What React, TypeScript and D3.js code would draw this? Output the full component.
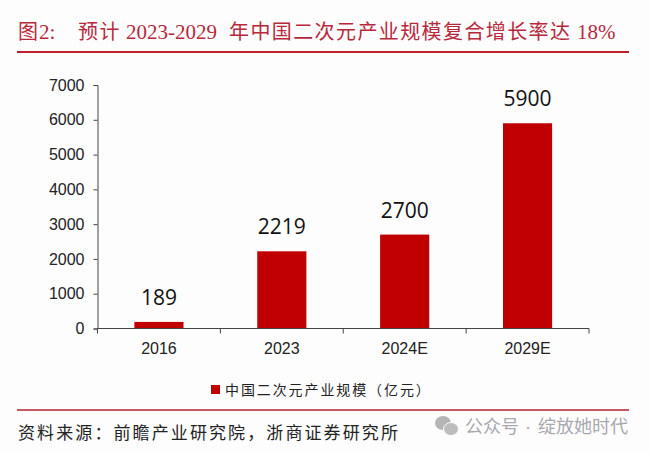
import React, { useEffect, useRef } from "react";
import * as d3 from "d3";

const categories = ["2016", "2023", "2024E", "2029E"];
const values = [189, 2219, 2700, 5900];
const yTicks = [0, 1000, 2000, 3000, 4000, 5000, 6000, 7000];
const legendText = "中国二次元产业规模（亿元）";
const sourceText = "资料来源：前瞻产业研究院，浙商证券研究所";

const RED = "#c00000";
const LINE_RED = "#c0202c";
const TITLE_RED = "#b8283c";
const BG = "#fdfdfe";
const CJK = "'Noto Sans CJK SC', sans-serif";
const LATIN = "'Liberation Sans', Arial, sans-serif";
const SERIF = "'Liberation Serif', serif";

const App = () => {
  const chartRef = useRef<SVGGElement>(null);

  const x = d3.scaleBand().domain(categories).range([97.5, 589]).paddingInner(0.6).paddingOuter(0.3);
  const y = d3.scaleLinear().domain([0, 7000]).range([328.5, 85]);

  useEffect(() => {
    const g = d3.select(chartRef.current);
    g.selectAll("*").remove();

    // bars
    g.selectAll(".bar")
      .data(values)
      .enter()
      .append("rect")
      .attr("class", "bar")
      .attr("x", (d, i) => x(categories[i]))
      .attr("y", d => y(d))
      .attr("width", x.bandwidth())
      .attr("height", d => y(0) - y(d))
      .attr("fill", RED);

    // value labels
    g.selectAll(".val")
      .data(values)
      .enter()
      .append("text")
      .attr("class", "val")
      .attr("x", (d, i) => x(categories[i]) + x.bandwidth() / 2)
      .attr("y", d => y(d) - 17)
      .attr("text-anchor", "middle")
      .attr("font-family", "'Open Sans', sans-serif")
      .attr("font-size", 21)
      .attr("fill", "#111")
      .text(d => d);

    // y axis
    const yAxis = g.append("g")
      .attr("transform", "translate(97.5,0)")
      .call(d3.axisLeft(y).tickValues(yTicks).tickSize(4).tickPadding(9).tickFormat(d3.format("d")));
    yAxis.selectAll("text").attr("font-family", LATIN).attr("font-size", 16).attr("fill", "#222");
    yAxis.selectAll("line,path").attr("stroke", "#444");

    // x axis, ticks sit between the bands
    const xAxis = g.append("g").attr("transform", `translate(0,${y(0)})`);
    xAxis.append("line").attr("x1", 97.5).attr("x2", 589).attr("stroke", "#444");
    const step = x.step();
    d3.range(categories.length + 1).forEach(i => {
      const px = 97.5 + i * step;
      xAxis.append("line").attr("x1", px).attr("x2", px).attr("y1", 0).attr("y2", 5).attr("stroke", "#444");
    });
    xAxis.selectAll(".lab")
      .data(categories)
      .enter()
      .append("text")
      .attr("class", "lab")
      .attr("x", d => x(d) + x.bandwidth() / 2)
      .attr("y", 25)
      .attr("text-anchor", "middle")
      .attr("font-family", LATIN)
      .attr("font-size", 16)
      .attr("fill", "#222")
      .text(d => d);
  }, []);

  return (
    <svg width={650} height={453} style={{ position: "absolute", left: 0, top: 0, background: BG }}>
      {/* title, the pieces are placed by hand to follow the original spacing */}
      <text y={39} fontSize={20} fill={TITLE_RED} fontFamily={CJK}>
        <tspan x={18}>图</tspan>
        <tspan x={39} fontFamily={SERIF} fontSize={21}>2:</tspan>
        <tspan x={78} letterSpacing={1.5}>预计</tspan>
        <tspan x={126} fontFamily={SERIF} fontSize={21}>2023-2029</tspan>
        <tspan x={229} letterSpacing={1.4}>年中国二次元产业规模复合增长率达</tspan>
        <tspan x={577} fontFamily={SERIF} fontSize={21}>18%</tspan>
      </text>
      <line x1={17} x2={629} y1={52} y2={52} stroke={LINE_RED} strokeWidth={2} />

      <g ref={chartRef} />

      <rect x={211} y={385} width={9} height={9} fill={RED} />
      <text x={225} y={395} fontFamily={CJK} fontSize={14} fill="#222" letterSpacing={1.9}>{legendText}</text>

      <line x1={17} x2={629} y1={410} y2={410} stroke="#b0222c" strokeWidth={1.5} />
      <text x={18} y={439} fontFamily={CJK} fontSize={17} fill="#222" letterSpacing={2.1}>{sourceText}</text>

      {/* watermark */}
      <ellipse cx={443} cy={423} rx={8} ry={7} fill="#b5b5b5" />
      <ellipse cx={451} cy={429} rx={7.5} ry={6.5} fill="#bdbdbd" stroke={BG} strokeWidth={1} />
      <text y={433} fontFamily={CJK} fontSize={18} fill="#a8a8ae">
        <tspan x={465}>公众号</tspan>
        <tspan x={525} fontFamily={LATIN}>·</tspan>
        <tspan x={538}>绽放她时代</tspan>
      </text>
    </svg>
  );
};

export default App;
